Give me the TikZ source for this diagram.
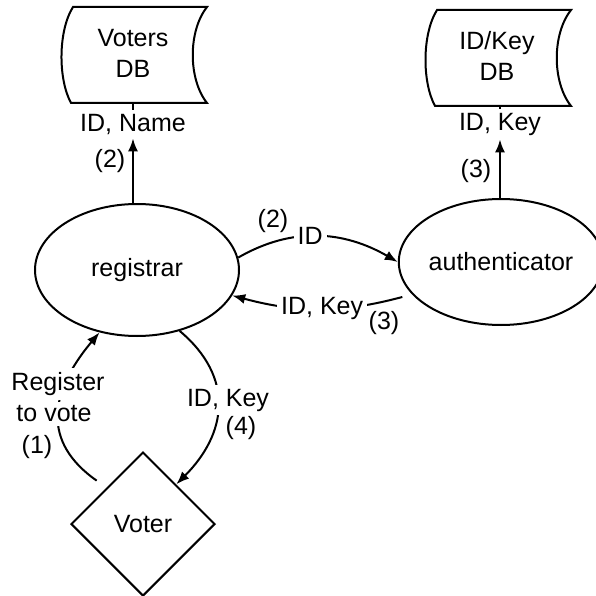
\documentclass[tikz,border=0pt]{standalone}
\usepackage{fontspec}
\setmainfont{Liberation Sans}
\usetikzlibrary{shapes.geometric,arrows.meta}

\tikzset{
    every node/.style={font=\fontsize{25}{31}\selectfont},
    proc/.style={ellipse,draw,line width=2pt,inner sep=0pt},
    person/.style={diamond,draw,line width=2pt,inner sep=0pt,minimum width=144,minimum height=144},
    dbtext/.style={align=center,inner sep=0pt,minimum height=100},
    tag/.style={fill=white,inner sep=4pt},
    wire/.style={line width=2pt},
    flow/.style={line width=2pt,-{Latex[length=13pt,width=10pt]}},
}
\newcommand\dbshape[1]{\draw[wire,shift={(#1)}] (-60,-46) -- (74,-46) .. controls (55,-22) and (55,26) .. (74,50) -- (-62,50) .. controls (-75,26) and (-75,-22) .. cycle;}

\begin{document}
\begin{tikzpicture}[x=1pt,y=-1pt]
        \useasboundingbox (0,0) rectangle (596,596);
        \node[dbtext] (votersdb) at (133,53) {Voters\\DB};
        \node[dbtext] (iddb) at (497,56) {ID/Key\\DB};
        \dbshape{votersdb}
        \dbshape{iddb}
        \node[proc,minimum width=204,minimum height=132] (registrar) at (137,270) {registrar};
        \node[proc,minimum width=188,minimum height=126] (authenticator) at (501,262) {authenticator};
        \node[person] (voter) at (143,524) {Voter};
        \node[tag] (namelbl) at (133,124) {ID, Name};
        \node[tag] (keylbl) at (500,124) {ID, Key};
        \draw[flow] (registrar.north -| namelbl) -- (namelbl);
        \draw[wire] (namelbl) -- (namelbl |- votersdb.south);
        \draw[flow] (authenticator.north -| keylbl) -- (keylbl);
        \draw[wire] (keylbl) -- (keylbl |- iddb.south);
        \draw[flow] (registrar.7) to[out=30,in=150] node[tag,pos=0.45] {ID} (authenticator.west);
        \draw[flow,shorten <=10pt] (authenticator.200) to[out=195,in=-15] node[tag] {ID, Key} (registrar.-15);
        \draw[flow,shorten <=12pt] (voter.135) to[out=145,in=230,looseness=1.3] (registrar.239);
        \draw[flow] (registrar.-55) to[out=-40,in=45,looseness=1.2] (voter.50);
        \node[tag] (reglbl) at (58,384) {Register};
        \node[tag] (votelbl) at (54,414) {to vote};
        \node[tag] (issuelbl) at (228,400) {ID, Key};
        \node (namestep) at (110,161) {(2)};
        \node (keystep) at (476,171) {(3)};
        \node (idstep) at (273,221) {(2)};
        \node (backstep) at (384,323) {(3)};
        \node (regstep) at (37,447) {(1)};
        \node (issuestep) at (241,428) {(4)};
\end{tikzpicture}
\end{document}
